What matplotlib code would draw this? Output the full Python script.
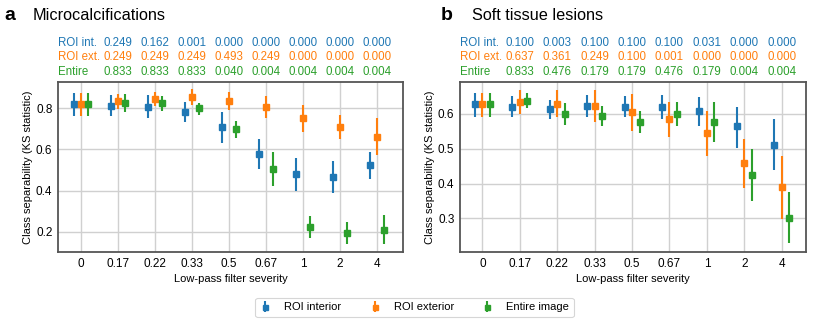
import matplotlib
matplotlib.use("Agg")
import matplotlib.pyplot as plt
import numpy as np

plt.rcParams['font.family'] = ['Liberation Sans', 'DejaVu Sans']

severity = ["0", "0.17", "0.22", "0.33", "0.5", "0.67", "1", "2", "4"]
series_names = ["ROI interior", "ROI exterior", "Entire image"]
row_labels = ["ROI int.", "ROI ext.", "Entire"]
colors = ["#1f77b4", "#ff7f0e", "#2ca02c"]

# Panel a: Microcalcifications
a_int = [0.818, 0.811, 0.806, 0.779, 0.708, 0.578, 0.479, 0.468, 0.523]
a_int_lo = [0.763, 0.759, 0.750, 0.730, 0.633, 0.505, 0.398, 0.391, 0.458]
a_int_hi = [0.873, 0.863, 0.863, 0.828, 0.779, 0.651, 0.558, 0.544, 0.588]
a_ext = [0.818, 0.832, 0.844, 0.855, 0.834, 0.805, 0.750, 0.708, 0.662]
a_ext_lo = [0.763, 0.795, 0.808, 0.816, 0.789, 0.751, 0.686, 0.649, 0.573]
a_ext_hi = [0.873, 0.870, 0.879, 0.892, 0.878, 0.857, 0.816, 0.768, 0.751]
a_ent = [0.818, 0.824, 0.824, 0.798, 0.698, 0.507, 0.224, 0.197, 0.211]
a_ent_lo = [0.763, 0.779, 0.787, 0.768, 0.657, 0.422, 0.171, 0.143, 0.143]
a_ent_hi = [0.873, 0.870, 0.860, 0.824, 0.735, 0.589, 0.276, 0.249, 0.281]
a_pvals = [
    ["0.249", "0.162", "0.001", "0.000", "0.000", "0.000", "0.000", "0.000"],
    ["0.249", "0.249", "0.249", "0.493", "0.249", "0.000", "0.000", "0.000"],
    ["0.833", "0.833", "0.833", "0.040", "0.004", "0.004", "0.004", "0.004"],
]

# Panel b: Soft tissue lesions
b_int = [0.628, 0.621, 0.613, 0.623, 0.621, 0.620, 0.608, 0.564, 0.512]
b_int_lo = [0.592, 0.592, 0.585, 0.592, 0.590, 0.587, 0.565, 0.501, 0.439]
b_int_hi = [0.661, 0.652, 0.640, 0.655, 0.652, 0.654, 0.648, 0.619, 0.585]
b_ext = [0.628, 0.635, 0.630, 0.624, 0.606, 0.586, 0.544, 0.458, 0.389]
b_ext_lo = [0.592, 0.600, 0.592, 0.576, 0.552, 0.535, 0.479, 0.386, 0.297]
b_ext_hi = [0.661, 0.669, 0.669, 0.669, 0.657, 0.635, 0.609, 0.528, 0.479]
b_ent = [0.628, 0.638, 0.600, 0.593, 0.577, 0.600, 0.576, 0.425, 0.302]
b_ent_lo = [0.592, 0.616, 0.568, 0.564, 0.544, 0.565, 0.518, 0.351, 0.228]
b_ent_hi = [0.661, 0.661, 0.633, 0.623, 0.610, 0.634, 0.634, 0.500, 0.376]
b_pvals = [
    ["0.100", "0.003", "0.100", "0.100", "0.100", "0.031", "0.000", "0.000"],
    ["0.637", "0.361", "0.249", "0.100", "0.001", "0.000", "0.000", "0.000"],
    ["0.833", "0.476", "0.179", "0.179", "0.476", "0.179", "0.004", "0.004"],
]

fig = plt.figure(figsize=(8.31, 3.27), dpi=100)
W, H = 831, 327
def ax_rect(x0, y0, x1, y1):
    return [x0 / W, 1 - y1 / H, (x1 - x0) / W, (y1 - y0) / H]

axa = fig.add_axes(ax_rect(58, 82, 403, 252))
axb = fig.add_axes(ax_rect(460, 82, 806, 252))

panels = [
    (axa, [(a_int, a_int_lo, a_int_hi), (a_ext, a_ext_lo, a_ext_hi), (a_ent, a_ent_lo, a_ent_hi)],
     a_pvals, (0.103, 0.926), [0.2, 0.4, 0.6, 0.8], (-0.62, 8.7)),
    (axb, [(b_int, b_int_lo, b_int_hi), (b_ext, b_ext_lo, b_ext_hi), (b_ent, b_ent_lo, b_ent_hi)],
     b_pvals, (0.203, 0.692), [0.3, 0.4, 0.5, 0.6], (-0.6, 8.65)),
]

x = np.arange(len(severity))
offsets = [-0.2, 0.0, 0.2]
handles = []
for ax, series, pvals, ylim, yticks, xlim in panels:
    ax.set_axisbelow(True)
    ax.grid(True, color="#d0d0d0", linewidth=1.0)
    for i, (vals, lo, hi) in enumerate(series):
        vals = np.array(vals); lo = np.array(lo); hi = np.array(hi)
        h = ax.errorbar(x + offsets[i], vals, yerr=[vals - lo, hi - vals],
                        fmt="s", color=colors[i], ecolor=colors[i], elinewidth=1.5,
                        markersize=4.5, capsize=0, label=series_names[i], zorder=3)
        if ax is axa:
            handles.append(h)
    ax.set_xticks(x)
    ax.set_xticklabels(severity)
    ax.set_yticks(yticks)
    ax.set_xlim(*xlim)
    ax.set_ylim(*ylim)
    ax.tick_params(axis="both", length=0, labelsize=8.5, pad=4)
    for s in ax.spines.values():
        s.set_color("#555555")
        s.set_linewidth(1.3)
    ax.set_xlabel("Low-pass filter severity", fontsize=8, labelpad=3)
    ax.set_ylabel("Class separability (KS statistic)", fontsize=8, labelpad=2)

    bb = ax.get_position()
    left_fig = bb.x0
    row_y = [42.7, 57.3, 71.7]
    for r in range(3):
        fig.text(left_fig, 1 - row_y[r] / H, row_labels[r], color=colors[r],
                 fontsize=8.3, ha="left", va="center")
        for j in range(8):
            xd = x[j + 1]
            xf = fig.transFigure.inverted().transform(ax.transData.transform((xd, 0)))[0]
            fig.text(xf, 1 - row_y[r] / H, pvals[r][j], color=colors[r],
                     fontsize=8.3, ha="center", va="center")

fig.text(4 / W, 1 - 15.7 / H, "a", fontsize=14, fontweight="bold", ha="left", va="center")
fig.text(33 / W, 1 - 15.7 / H, "Microcalcifications", fontsize=11.7, ha="left", va="center")
fig.text(441 / W, 1 - 15.7 / H, "b", fontsize=14, fontweight="bold", ha="left", va="center")
fig.text(471.5 / W, 1 - 15.7 / H, "Soft tissue lesions", fontsize=11.7, ha="left", va="center")

leg = fig.legend(handles=handles, labels=series_names, loc="center",
                 bbox_to_anchor=(414.5 / W, 1 - 307.5 / H), ncol=3, fontsize=8,
                 frameon=True, handlelength=1.0, columnspacing=2.5, handletextpad=1.2,
                 borderpad=0.4, markerscale=0.8)
leg.get_frame().set_edgecolor("#cccccc")
leg.get_frame().set_linewidth(0.8)

fig.savefig("out.png", dpi=100)
